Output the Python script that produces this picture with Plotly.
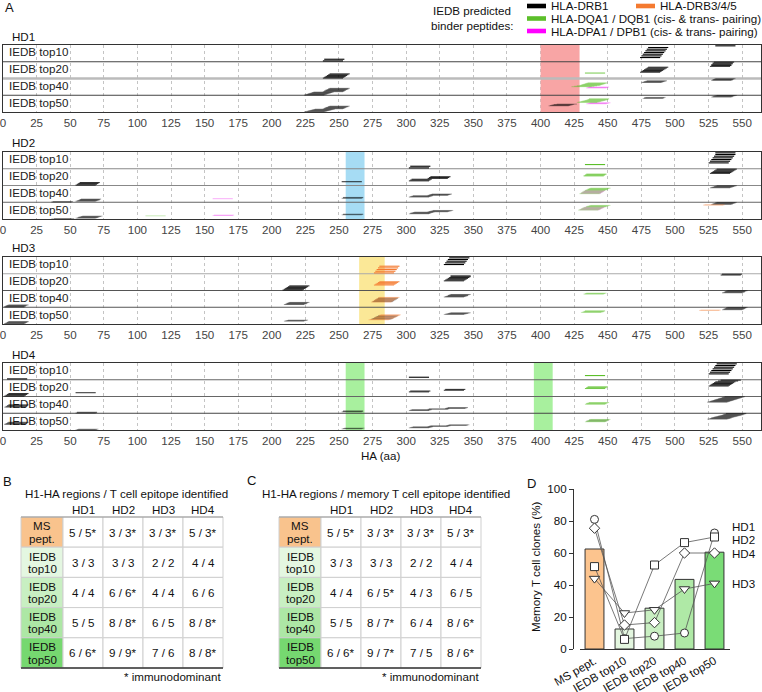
import plotly.graph_objects as go

W, H = 762, 692
FONT = "Liberation Sans, Arial, sans-serif"
FS = 11.6

# ---------------- panel A data ----------------
DONORS = ["HD1", "HD2", "HD3", "HD4"]
ROW_NAMES = ["IEDB top10", "IEDB top20", "IEDB top40", "IEDB top50"]
PEP_LEN = 15

HLA_LABELS = {"D": "HLA-DRB1", "O": "HLA-DRB3/4/5",
              "Q": "HLA-DQA1 / DQB1 (cis- & trans- pairing)",
              "P": "HLA-DPA1 / DPB1 (cis- & trans- pairing)"}
HLA_COLORS = {"D": "#000000", "O": "#f47a30", "Q": "#5cbf2a", "P": "#f03cf0"}

# peptide start positions per row, listed bottom -> top of the row
# codes: D = DRB1, O = DRB3/4/5, Q = DQA1/DQB1, P = DPA1/DPB1
hd1_starts = [
    [238, 239, 474, 475, 476, 477, 478, 479, 480, 530],
    [238, 239, 240, 241, 242, 243, 433, 474, 475, 476, 477, 478, 479, 480,
     526, 527, 527, 528, 528, 529],
    [224, 225, 226, 227, 228, 229, 230, 231, 238, 239, 239, 240, 240, 241, 242, 242, 243,
     434, 435, 436, 423, 425, 427, 429, 430, 431, 432, 433, 434, 435,
     475, 476, 477, 478, 479, 527, 528, 528, 529, 530],
    [224, 225, 226, 227, 228, 229, 230, 231, 232, 238, 239, 239, 240, 240, 241, 242, 242, 243,
     406, 407, 408, 409, 410, 412, 434, 435, 436, 437,
     427, 428, 429, 430, 431, 432, 433, 434, 435, 435, 436, 436,
     476, 477, 477, 478, 527, 528, 528, 529, 530, 531],
]
hd1_hla = [
    "DD DDDDDDD D",
    "DDDDDD Q DDDDDDD DDDDDD",
    "DDDDDDDDDDDDDDDDD PPP QQQQQQQQQQ DDDDD DDDDD",
    "DDDDDDDDDDDDDDDDDD DDDDDD PPPP QQQQQQQQQQQQ DDDD DDDDDD",
]

hd2_starts = [
    [302, 303, 433, 525, 526, 527, 528, 529, 530, 530],
    [54, 55, 56, 57, 252, 302, 303, 304, 316, 317, 318, 432, 433, 434,
     526, 527, 528, 529, 530, 531],
    [36, 37, 54, 55, 56, 57, 57, 58, 156, 252, 253, 253,
     302, 303, 304, 305, 316, 317, 318, 319,
     429, 430, 430, 431, 431, 432, 432, 433, 433, 434, 435, 435, 436, 437,
     526, 527, 528, 529, 530, 531],
    [36, 38, 54, 55, 56, 56, 57, 58, 59, 106, 156, 157, 252, 253, 253,
     302, 303, 303, 304, 305, 306, 316, 317, 318, 319, 320,
     428, 429, 429, 430, 430, 431, 431, 432, 432, 433, 434, 434, 435, 436, 437,
     521, 522, 527, 528, 528, 529, 530, 530, 531],
]
hd2_hla = [
    "DD Q DDDDDDD",
    "DDDD D DDDDDD QQQ DDDDDD",
    "DD DDDDDD P DDD DDDDDDDD QPQPQPQPQQQQQQ DDDDDD",
    "DD DDDDDDD Q PP DDD DDDDDDDDDDD QPQPQPQPQPQQQQQ OO DDDDDDD",
]

hd3_starts = [
    [276, 277, 278, 279, 280, 328, 329, 330, 331, 332],
    [208, 209, 210, 211, 212, 213, 276, 277, 278, 279, 280,
     328, 329, 330, 331, 332, 333, 333, 534, 535],
    [1, 1, 2, 2, 3, 4, 209, 210, 211, 211, 212, 213,
     274, 275, 275, 276, 276, 277, 277, 278, 278, 279, 279, 280,
     328, 329, 330, 331, 331, 332, 333, 432, 433, 434,
     535, 536, 537, 537, 538, 539],
    [1, 1, 2, 2, 3, 3, 4, 4, 209, 210, 211, 212,
     272, 273, 274, 275, 275, 276, 276, 277, 277, 278, 278, 279, 279, 280, 280, 281,
     328, 329, 330, 331, 332, 333, 430, 431, 432, 432, 433, 433, 518, 519,
     535, 536, 536, 537, 537, 538, 538, 539],
]
hd3_hla = [
    "OOOOO DDDDD",
    "DDDDDD OOOOO DDDDDDD DD",
    "DDDDDD DDDDDD ODODODODODOO DDDDDDD QQQ DDDDDD",
    "DDDDDDDD DDDD OODODODODODODOOO DDDDDD QQQQQQ OO DDDDDDDD",
]

hd4_starts = [
    [3, 302, 433, 525, 526, 527, 528, 529, 530, 531],
    [1, 2, 3, 4, 54, 302, 303, 328, 329, 433, 434, 435,
     525, 526, 527, 528, 529, 530, 532, 534],
    [54, 55, 55, 252, 253, 253, 302, 303, 304, 316, 317, 329, 330, 331,
     1, 2, 2, 3, 3, 4, 4, 433, 434, 434, 435, 436,
     524, 525, 526, 527, 528, 529, 530, 531, 532, 533, 534, 535, 536, 537],
    [54, 55, 56, 252, 253, 254, 302, 303, 304, 305, 316, 317, 318, 330, 331, 332,
     1, 1, 2, 2, 3, 3, 4, 4, 433, 434, 434, 435, 435, 436, 436, 437,
     524, 525, 526, 527, 527, 528, 529, 530, 531, 532, 533, 534, 535, 536, 536, 537, 538, 538],
]
hd4_hla = [
    "D D Q DDDDDDD",
    "DDDD D DD DD QQQ DDDDDDDD",
    "DDD DDD DDDDDDDD DDDDDDD QQQQQ DDDDDDDDDDDDDD",
    "DDD DDD DDDDDDDDDD DDDDDDDD QQDQQDQQ DDDDDDDDDDDDDDDDDD",
]

# highlighted HA regions (aa) per donor
hd_regions = [[(400, 429)], [(255, 269)], [(265, 284)], [(255, 269), (395, 409)]]
region_colors = ["#f8a5a5", "#a6dcf4", "#fbe897", "#a8f09e"]

# ---------------- panel B / C data ----------------
TABLE_ROWS = [("MS", "pept."), ("IEDB", "top10"), ("IEDB", "top20"), ("IEDB", "top40"), ("IEDB", "top50")]
TABLE_COLORS = ["#f9c38d", "#e4f7e1", "#c8efc2", "#ade7a5", "#76d870"]
b_values = [
    ["5 / 5*", "3 / 3*", "3 / 3*", "5 / 3*"],
    ["3 / 3", "3 / 3", "2 / 2", "4 / 4"],
    ["4 / 4", "6 / 6*", "4 / 4", "6 / 6"],
    ["5 / 5", "8 / 8*", "6 / 5", "8 / 8*"],
    ["6 / 6*", "9 / 9*", "7 / 6", "8 / 8*"],
]
c_values = [
    ["5 / 5*", "3 / 3*", "3 / 3*", "5 / 3*"],
    ["3 / 3", "3 / 3", "2 / 2", "4 / 4"],
    ["4 / 4", "6 / 5*", "4 / 3", "6 / 5"],
    ["5 / 5", "8 / 7*", "6 / 4", "8 / 6*"],
    ["6 / 6*", "9 / 7*", "7 / 5", "8 / 6*"],
]

# ---------------- panel D data ----------------
D_CATS = ["MS pept.", "IEDB top10", "IEDB top20", "IEDB top40", "IEDB top50"]
d_bars = [62.5, 12.5, 25.5, 43.5, 60.5]
d_hd1 = [81, 6.5, 8, 10, 72.5]
d_hd2 = [51.5, 6, 52.5, 66.5, 70]
d_hd3 = [44, 22.5, 24.5, 37.5, 41]
d_hd4 = [75.5, 15, 16.5, 60, 60]


def fx(x):
    return x / W


def fy(y):
    return 1 - y / H


fig = go.Figure()
shapes = []
ann = []


def text(x, y, s, size=FS, xanchor="center", yanchor="middle", color="#111", angle=0):
    ann.append(dict(x=fx(x), y=fy(y), xref="paper", yref="paper", text=s, showarrow=False,
                    xanchor=xanchor, yanchor=yanchor, textangle=angle,
                    font=dict(family=FONT, size=size, color=color)))


def rect(x0, y0, x1, y1, fill, line="rgba(0,0,0,0)", lw=0):
    shapes.append(dict(type="rect", xref="paper", yref="paper", x0=fx(x0), x1=fx(x1),
                       y0=fy(y0), y1=fy(y1), fillcolor=fill, line=dict(color=line, width=lw)))


def hline(x0, x1, y, color, lw):
    shapes.append(dict(type="line", xref="paper", yref="paper", x0=fx(x0), x1=fx(x1),
                       y0=fy(y), y1=fy(y), line=dict(color=color, width=lw)))


# ---------------- panel A ----------------
all_starts = [hd1_starts, hd2_starts, hd3_starts, hd4_starts]
all_hla = [hd1_hla, hd2_hla, hd3_hla, hd4_hla]
box_tops = [45, 152, 257, 363]
BOX_H = 67
X_MAX = 564
sep_styles = [
    [("#444", 1), ("#bbbbbb", 2.5), ("#444", 1)],
    [("#888", 1), ("#888", 1), ("#666", 1)],
    [("#aaa", 1.2), ("#555", 1), ("#555", 1)],
    [("#666", 1), ("#666", 1), ("#444", 1)],
]

layout_axes = {}
for k, donor in enumerate(DONORS):
    s = "" if k == 0 else str(k + 1)
    xa, ya = "x" + s, "y" + s
    top = box_tops[k]
    layout_axes["xaxis" + s] = dict(
        domain=[fx(3), fx(761)], range=[0, X_MAX], anchor=ya, tick0=0, dtick=25,
        showgrid=True, gridcolor="#c4c4c4", griddash="dot", gridwidth=1, zeroline=False,
        showline=True, mirror=True, linecolor="#333", linewidth=1, ticks="", automargin=False,
        ticklabeloverflow="allow", tickfont=dict(family=FONT, size=FS, color="#444"))
    layout_axes["yaxis" + s] = dict(
        domain=[fy(top + BOX_H), fy(top)], range=[0, 4], anchor=xa, showticklabels=False,
        showgrid=False, zeroline=False, showline=True, mirror=True, linecolor="#333",
        linewidth=1, ticks="", automargin=False)

    for (a0, a1) in hd_regions[k]:
        shapes.append(dict(type="rect", xref=xa, yref=ya, x0=a0, x1=a1, y0=0, y1=4,
                           fillcolor=region_colors[k], line=dict(width=0), layer="between"))
    for j, (col, lw) in enumerate(sep_styles[k]):
        shapes.append(dict(type="line", xref=xa, yref=ya, x0=0, x1=X_MAX, y0=3 - j, y1=3 - j,
                           line=dict(color=col, width=lw), layer="between"))

    fig.add_trace(go.Scatter(
        x=[4.5] * 4, y=[3.5, 2.5, 1.5, 0.5], text=ROW_NAMES, mode="text",
        textposition="middle right", textfont=dict(family=FONT, size=FS, color="#222"),
        xaxis=xa, yaxis=ya, hoverinfo="skip"))

    for r, (starts, codes) in enumerate(zip(all_starts[k], all_hla[k])):
        codes = codes.replace(" ", "")
        n = len(starts)
        base = 3 - r
        lw = min(1.1, 16.75 / n)
        for code in "DOPQ":
            xs, ys = [], []
            for i, (st, c) in enumerate(zip(starts, codes)):
                if c != code:
                    continue
                yv = base + (i + 0.5) / n
                xs += [st, st + PEP_LEN, None]
                ys += [yv, yv, None]
            if xs:
                fig.add_trace(go.Scatter(
                    x=xs, y=ys, mode="lines", line=dict(color=HLA_COLORS[code], width=lw),
                    xaxis=xa, yaxis=ya, hoverinfo="skip"))

    text(10, top - 9, donor, xanchor="left")

text(3, 8, "A", size=13, xanchor="left")
text(380, 455, "HA (aa)")

# legend
text(472, 11, "IEDB predicted")
text(472, 25, "binder peptides:")
leg = [("D", 527, 6), ("O", 636, 6), ("Q", 527, 18.5), ("P", 527, 31)]
for code, lx, ly in leg:
    rect(lx, ly - 2.3, lx + 19, ly + 2.3, HLA_COLORS[code] if code != "P" else "#ff00ff")
    text(lx + 22, ly, HLA_LABELS[code], xanchor="left")

# ---------------- panels B / C ----------------
def draw_table(x0, title_cx, title, values, letter, letter_xy):
    edges = [x0, x0 + 42, x0 + 82, x0 + 122, x0 + 162, x0 + 202]
    rows = [517 + 30.2 * i for i in range(6)]
    for i, (l1, l2) in enumerate(TABLE_ROWS):
        rect(edges[0], rows[i], edges[1], rows[i + 1], TABLE_COLORS[i], "#cfcfcf", 1)
        cx = (edges[0] + edges[1]) / 2
        cy = (rows[i] + rows[i + 1]) / 2
        text(cx, cy - 6.2, l1)
        text(cx, cy + 6.2, l2)
        for j, v in enumerate(values[i]):
            rect(edges[j + 1], rows[i], edges[j + 2], rows[i + 1], "white", "#cfcfcf", 1)
            text((edges[j + 1] + edges[j + 2]) / 2, cy, v)
    hline(edges[0], edges[-1], rows[0], "#999", 1.2)
    hline(edges[0], edges[-1], rows[-1], "#333", 1.5)
    for j, d in enumerate(DONORS):
        text((edges[j + 1] + edges[j + 2]) / 2, 509, d)
    text(title_cx, 493, title)
    text(edges[-1], 676, "* immunodominant", xanchor="right")
    text(letter_xy[0], letter_xy[1], letter, size=13, xanchor="left")


draw_table(21, 126, "H1-HA regions / T cell epitope identified", b_values, "B", (1, 481))
draw_table(279, 386, "H1-HA regions / memory T cell epitope identified", c_values, "C", (245, 480))

# ---------------- panel D ----------------
xd = list(range(len(D_CATS)))
fig.add_trace(go.Bar(
    x=xd, y=d_bars, width=0.63, xaxis="x5", yaxis="y5", hoverinfo="skip",
    marker=dict(color=["#fcc48e", "#e3f6df", "#c9efc2", "#afe9a6", "#7adc76"],
                line=dict(color="#333", width=1))))
for vals, sym, size in [(d_hd1, "circle", 8), (d_hd2, "square", 8),
                        (d_hd3, "triangle-down", 9), (d_hd4, "diamond", 8)]:
    fig.add_trace(go.Scatter(
        x=xd, y=vals, mode="lines+markers", xaxis="x5", yaxis="y5", hoverinfo="skip",
        line=dict(color="#555", width=0.8),
        marker=dict(symbol=sym, size=size, color="white", line=dict(color="#333", width=1))))

layout_axes["xaxis5"] = dict(
    domain=[fx(579.5), fx(729.5)], range=[-0.5, 4.5], anchor="y5", tickvals=xd,
    ticktext=D_CATS, tickangle=-30, showline=True, linecolor="#333", linewidth=1,
    ticks="", showgrid=False, zeroline=False, automargin=False,
    tickfont=dict(family=FONT, size=FS, color="#111"))
layout_axes["yaxis5"] = dict(
    domain=[fy(649), fy(489)], range=[0, 100], anchor="free", position=fx(573),
    tick0=0, dtick=20, ticks="outside", ticklen=4, tickcolor="#333", showline=True,
    linecolor="#333", linewidth=1, showgrid=False, zeroline=False, automargin=False,
    tickfont=dict(family=FONT, size=FS, color="#111"))

text(525, 483, "D", size=13, xanchor="left")
text(535, 567, "Memory T cell clones (%)", angle=-90)
for lab, ly in [("HD1", 526), ("HD2", 539), ("HD4", 553), ("HD3", 583)]:
    text(730, ly, lab, xanchor="left")

fig.update_layout(
    width=W, height=H, margin=dict(l=0, r=0, t=0, b=0),
    paper_bgcolor="white", plot_bgcolor="white", showlegend=False, hovermode=False,
    shapes=shapes, annotations=ann, **layout_axes)

# the page body has a default 8px margin; remove it so the figure fills the window
fig.write_html("out.html", config={"displayModeBar": False},
               post_script="document.body.style.margin='0px';")
